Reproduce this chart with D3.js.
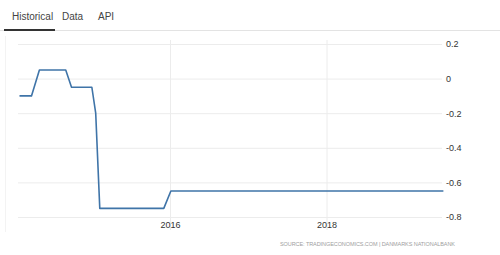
<!DOCTYPE html>
<html>
<head>
<meta charset="utf-8">
<script src="https://cdn.jsdelivr.net/npm/d3@7"></script>
<style>
    body { margin: 0; background: #fff; font-family: "Liberation Sans", Arial, sans-serif; }
    .grid line { stroke: #ececec; }
    .grid .domain { display: none; }
    .y-axis text, .x-axis text { fill: #333; font-size: 9px; }
    .y-axis .domain, .x-axis .domain, .y-axis line, .x-axis line { display: none; }
</style>
</head>
<body>
<div id="chart"></div>
<script>
// rate history (Danmarks Nationalbank)
var dates = ["2014-01-28", "2014-03-25", "2014-05-01", "2014-09-01", "2014-09-28",
    "2015-01-01", "2015-01-19", "2015-02-07", "2015-12-03", "2016-01-05", "2019-07-01"];
var rates = [-0.1, -0.1, 0.05, 0.05, -0.05, -0.05, -0.2, -0.75, -0.75, -0.65, -0.65];
var yTicks = [0.2, 0, -0.2, -0.4, -0.6, -0.8];
var xTicks = ["2016-01-01", "2018-01-01"];
var tabs = ["Historical", "Data", "API"];

var parse = d3.timeParse("%Y-%m-%d");
var values = dates.map(function (d, i) {
    return {x: parse(d), y: rates[i]};
});

var svg = d3.select("#chart").append("svg")
    .attr("width", 500)
    .attr("height", 255);

// tabs across the top
var tabX = [12, 62, 98];
svg.append("line")
    .attr("x1", 0).attr("x2", 500)
    .attr("y1", 30.5).attr("y2", 30.5)
    .attr("stroke", "#e3e3e3");
svg.selectAll(".tab")
    .data(tabs)
    .enter().append("text")
    .attr("class", "tab")
    .attr("x", function (d, i) { return tabX[i]; })
    .attr("y", 20)
    .attr("fill", "#444")
    .attr("font-size", "10px")
    .text(function (d) { return d; });
svg.append("rect")
    .attr("x", 4).attr("y", 29)
    .attr("width", 51).attr("height", 2)
    .attr("fill", "#333");

// faint frame at left
svg.append("line")
    .attr("x1", 5.5).attr("x2", 5.5)
    .attr("y1", 36).attr("y2", 232)
    .attr("stroke", "#f3f3f3");

var x = d3.scaleTime()
    .domain([parse("2016-01-01"), parse("2018-01-01")])
    .range([170, 326.5]);
var y = d3.scaleLinear()
    .domain([-0.8, 0.2])
    .range([217, 44]);

var left = 18, right = 442;

// horizontal gridlines
svg.append("g")
    .attr("class", "grid")
    .attr("transform", "translate(" + right + ",0)")
    .call(d3.axisLeft(y).tickValues(yTicks).tickSize(right - left).tickFormat(""));

// vertical gridlines
svg.append("g")
    .attr("class", "grid")
    .attr("transform", "translate(0,40)")
    .call(d3.axisBottom(x).tickValues(xTicks.map(parse)).tickSize(190).tickFormat(""));

// Y axis labels on the right
svg.append("g")
    .attr("class", "y-axis")
    .attr("transform", "translate(" + (right + 2) + ",0)")
    .call(d3.axisRight(y).tickValues(yTicks).tickSize(0)
        .tickFormat(function (d) { return d === 0 ? "0" : d.toFixed(1); }))
    .selectAll("text")
    .attr("x", 2);

// X axis labels
svg.append("g")
    .attr("class", "x-axis")
    .attr("transform", "translate(0,219)")
    .call(d3.axisBottom(x).tickValues(xTicks.map(parse)).tickSize(0)
        .tickFormat(d3.timeFormat("%Y")));

// Line
var line = d3.line()
    .x(function (d) { return x(d.x); })
    .y(function (d) { return y(d.y); });

svg.append("path")
    .datum(values)
    .attr("fill", "none")
    .attr("stroke", "#3f74a8")
    .attr("stroke-width", 1.6)
    .attr("stroke-linejoin", "round")
    .attr("d", line);

// source note
svg.append("text")
    .attr("x", 280)
    .attr("y", 246)
    .attr("fill", "#a0a0a0")
    .attr("font-size", "5.5px")
    .attr("textLength", 175)
    .attr("lengthAdjust", "spacing")
    .text("SOURCE:  TRADINGECONOMICS.COM  |  DANMARKS  NATIONALBANK");
</script>
</body>
</html>
